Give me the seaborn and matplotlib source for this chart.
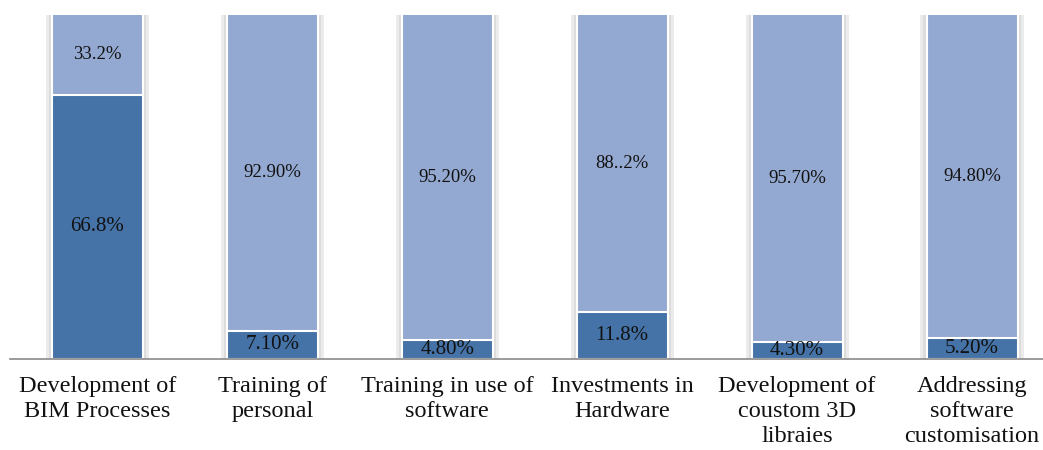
import matplotlib
matplotlib.use("Agg")
import matplotlib.pyplot as plt
import seaborn as sns
import pandas as pd

categories = [
    "Development of\nBIM Processes",
    "Training of\npersonal",
    "Training in use of\nsoftware",
    "Investments in\nHardware",
    "Development of\ncoustom 3D\nlibraies",
    "Addressing\nsoftware\ncustomisation",
]
yes_values = [66.8, 7.10, 4.80, 11.8, 4.30, 5.20]
no_values = [33.2, 92.90, 95.20, 88.2, 95.70, 94.80]
yes_labels = ["66.8%", "7.10%", "4.80%", "11.8%", "4.30%", "5.20%"]
no_labels = ["33.2%", "92.90%", "95.20%", "88..2%", "95.70%", "94.80%"]

dark = "#4573a7"
light = "#94a9d1"
y_top = 87

sns.set_theme(style="white")
plt.rcParams["font.family"] = ["Liberation Serif", "DejaVu Serif"]

df = pd.DataFrame({
    "category": categories,
    "yes": yes_values,
    "total": [a + b for a, b in zip(yes_values, no_values)],
})

fig = plt.figure(figsize=(10.43, 4.5), dpi=100)
ax = fig.add_axes([10 / 1043, 1 - 359 / 450, 1 - 10 / 1043, (359 - 15) / 450])

# soft shadow behind each column
sns.barplot(data=df, x="category", y="total", color="#ebebeb", width=0.59,
            saturation=1, edgecolor="none", ax=ax)
sns.barplot(data=df, x="category", y="total", color="#dcdcdc", width=0.555,
            saturation=1, edgecolor="none", ax=ax)
sns.barplot(data=df, x="category", y="total", color=light, width=0.52,
            saturation=1, edgecolor="white", linewidth=1.5, ax=ax)
sns.barplot(data=df, x="category", y="yes", color=dark, width=0.52,
            saturation=1, edgecolor="white", linewidth=1.5, ax=ax)

for i, (yv, nv) in enumerate(zip(yes_values, no_values)):
    ax.text(i, yv / 2, yes_labels[i], ha="center", va="center",
            fontsize=15, color="#111111")
    top = min(yv + nv, y_top)
    ax.text(i, (yv + top) / 2, no_labels[i], ha="center", va="center",
            fontsize=13.5, color="#111111")

ax.set_ylim(0, y_top)
ax.set_xlim(-0.5, 5.5 - 16.5 / 175)
ax.set_xlabel("")
ax.set_ylabel("")
ax.set_yticks([])
for side in ["left", "right", "top"]:
    ax.spines[side].set_visible(False)
ax.spines["bottom"].set_color("#8a8a8a")
ax.spines["bottom"].set_linewidth(1.2)
ax.tick_params(axis="x", length=0, pad=12, labelsize=17.5, labelcolor="#111111")
for lbl in ax.get_xticklabels():
    lbl.set_linespacing(1.27)

fig.savefig("out.png", dpi=100)
